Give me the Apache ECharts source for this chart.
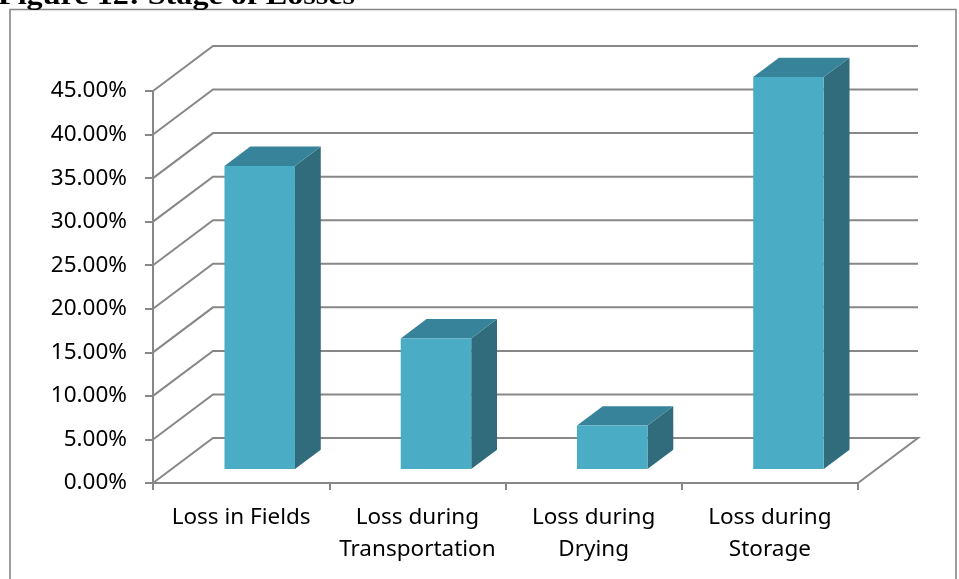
<!DOCTYPE html>
<html>
<head>
<meta charset="utf-8">
<script src="https://cdn.jsdelivr.net/npm/echarts/dist/echarts.min.js"></script>
<style>
  html, body { margin: 0; padding: 0; background: #ffffff; }
  #chart { width: 959px; height: 579px; }
</style>
</head>
<body>
<div id="chart"></div>
<script>
// Stage at which losses occur (share of total loss, %)
const categories = ['Loss in Fields', 'Loss during\nTransportation', 'Loss during\nDrying', 'Loss during\nStorage'];
const lossShare = [34.8, 15, 5, 45];
const yTicks = [0, 5, 10, 15, 20, 25, 30, 35, 40, 45];

// Receding direction of the pseudo-3D box, in pixels (right and up)
const DEPTH = [60, -45];
// Bars sit between these fractions of the box depth
const BAR_NEAR = 0.31;
const BAR_FAR = 0.74;
// Bar front width as a share of one category slot
const BAR_WIDTH = 0.40;

const GRID_COLOR = '#878787';
const FACE_FRONT = '#4bacc6';
const FACE_TOP = '#37839a';
const FACE_SIDE = '#306c7c';

// Left wall diagonal + back wall gridline for one tick value (floor closes back to the front edge)
function renderWallLine(params, api) {
  const cs = params.coordSys;
  const v = api.value(1);
  const y = api.coord([0, v])[1];
  const x0 = cs.x;
  const x1 = cs.x + cs.width;
  const pts = [
    [x0, y],
    [x0 + DEPTH[0], y + DEPTH[1]],
    [x1 + DEPTH[0], y + DEPTH[1]]
  ];
  if (v === 0) pts.push([x1, y]);
  return {
    type: 'polyline',
    shape: { points: pts },
    style: { stroke: GRID_COLOR, lineWidth: 2, fill: null }
  };
}

// A box-shaped column: front face, top face and right side face
function renderBox(params, api) {
  const i = api.value(0);
  const v = api.value(1);
  const base = api.coord([i, 0]);
  const top = api.coord([i, v]);
  const half = api.size([1, 0])[0] * BAR_WIDTH / 2;
  const nx = DEPTH[0] * BAR_NEAR, ny = DEPTH[1] * BAR_NEAR;
  const ddx = DEPTH[0] * (BAR_FAR - BAR_NEAR), ddy = DEPTH[1] * (BAR_FAR - BAR_NEAR);
  const xl = base[0] - half + nx;
  const xr = base[0] + half + nx;
  const yb = base[1] + ny;
  const yt = top[1] + ny;
  return {
    type: 'group',
    children: [
      {
        type: 'polygon',
        shape: { points: [[xr, yt], [xr + ddx, yt + ddy], [xr + ddx, yb + ddy], [xr, yb]] },
        style: { fill: FACE_SIDE }
      },
      {
        type: 'polygon',
        shape: { points: [[xl, yt], [xr, yt], [xr + ddx, yt + ddy], [xl + ddx, yt + ddy]] },
        style: { fill: FACE_TOP }
      },
      {
        type: 'rect',
        shape: { x: xl, y: yt, width: xr - xl, height: yb - yt },
        style: { fill: FACE_FRONT }
      }
    ]
  };
}

const chart = echarts.init(document.getElementById('chart'), null, { renderer: 'canvas' });

chart.setOption({
  animation: false,
  backgroundColor: '#ffffff',
  graphic: [
    {
      type: 'rect',
      shape: { x: 10, y: 9.5, width: 946, height: 600 },
      style: { fill: null, stroke: '#868686', lineWidth: 1.6 },
      silent: true
    },
    {
      type: 'text',
      x: -2,
      y: 10.5,
      scaleX: 1.15,
      style: {
        text: 'Figure 12: Stage of Losses',
        font: 'bold 28px "Liberation Serif"',
        fill: '#000000',
        verticalAlign: 'bottom'
      },
      silent: true
    }
  ],
  grid: { left: 153, right: 101, top: 91, bottom: 96, containLabel: false },
  xAxis: {
    type: 'category',
    data: categories,
    boundaryGap: true,
    axisLine: { show: true, lineStyle: { color: GRID_COLOR, width: 2 } },
    axisTick: { show: true, length: 7, lineStyle: { color: GRID_COLOR, width: 2 } },
    axisLabel: {
      color: '#000000',
      fontFamily: 'Noto Sans',
      fontSize: 22.5,
      lineHeight: 32,
      margin: 19,
      interval: 0
    },
    splitLine: { show: false }
  },
  yAxis: {
    type: 'value',
    min: 0,
    max: 45,
    interval: 5,
    axisLine: { show: true, lineStyle: { color: GRID_COLOR, width: 2 } },
    axisTick: { show: true, length: 8, lineStyle: { color: GRID_COLOR, width: 2 } },
    axisLabel: {
      color: '#000000',
      fontFamily: 'Noto Sans',
      fontSize: 22.5,
      margin: 26,
      formatter: (v) => v.toFixed(2) + '%'
    },
    splitLine: { show: false }
  },
  series: [
    {
      type: 'custom',
      name: 'walls',
      clip: false,
      silent: true,
      z: 1,
      encode: { x: 0, y: 1 },
      data: yTicks.map((v) => [0, v]),
      renderItem: renderWallLine
    },
    {
      type: 'custom',
      name: 'Stage of Losses',
      clip: false,
      z: 3,
      encode: { x: 0, y: 1 },
      data: lossShare.map((v, i) => [i, v]),
      renderItem: renderBox
    }
  ]
});
</script>
</body>
</html>
